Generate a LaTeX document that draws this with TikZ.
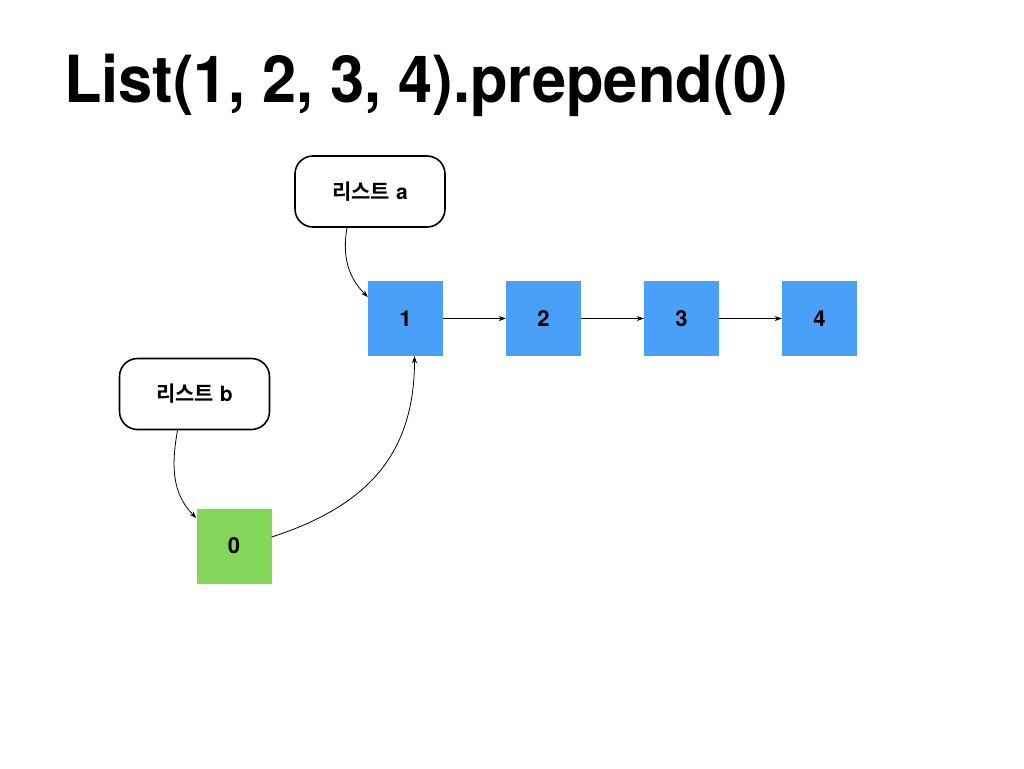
\documentclass[tikz,border=0pt]{standalone}
\usepackage{fontspec}
\setmainfont{TeX Gyre Heros}
\newfontfamily\kr{Noto Sans CJK KR}[BoldFont={Noto Sans CJK KR Bold}]
\usetikzlibrary{arrows.meta}
\definecolor{cellblue}{HTML}{4A9FF9}
\definecolor{cellgreen}{HTML}{84D65A}
\tikzset{
  cell/.style={rectangle, minimum width=75pt, minimum height=75pt, inner sep=0pt, font=\fontsize{22}{22}\selectfont\bfseries},
  bluecell/.style={cell, fill=cellblue},
  greencell/.style={cell, fill=cellgreen},
  tag/.style={rectangle, draw=black, line width=1.6pt, rounded corners=18pt, minimum width=150pt, minimum height=71pt, inner sep=0pt, font=\fontsize{21}{21}\selectfont\bfseries},
  arr/.style={-{Stealth[length=7pt,width=5pt]}, line width=0.8pt, black},
}
\begin{document}
\begin{tikzpicture}[x=1pt,y=1pt]
\useasboundingbox (0,0) rectangle (1024,-768);
\fill[white] (0,0) rectangle (1024,-768);
\node[anchor=base west, inner sep=0pt, font=\fontsize{65}{65}\selectfont\bfseries] (title) at (64,-102) {\scalebox{0.945}[1]{List(1, 2, 3, 4).prepend(0)}};
\node[bluecell] (n1) at (405.5,-318.5) {1};
\node[bluecell] (n2) at (543.5,-318.5) {2};
\node[bluecell] (n3) at (681.5,-318.5) {3};
\node[bluecell] (n4) at (819.5,-318.5) {4};
\node[greencell] (n0) at (234,-546) {0};
\node[tag] (la) at (370,-191.5) {{\kr 리스트} a};
\node[tag] (lb) at (194.5,-394) {{\kr 리스트} b};
\draw[arr] (n1) -- (n2);
\draw[arr] (n2) -- (n3);
\draw[arr] (n3) -- (n4);
\draw[arr] ([xshift=-23pt]la.south) to[out=-100, in=135] ([yshift=21.5pt]n1.west);
\draw[arr] ([xshift=-17pt]lb.south) to[out=-100, in=135] ([yshift=28pt]n0.west);
\draw[arr] ([yshift=9pt]n0.east) to[out=18, in=-90, looseness=1.1] ([xshift=9pt]n1.south);
\end{tikzpicture}
\end{document}
